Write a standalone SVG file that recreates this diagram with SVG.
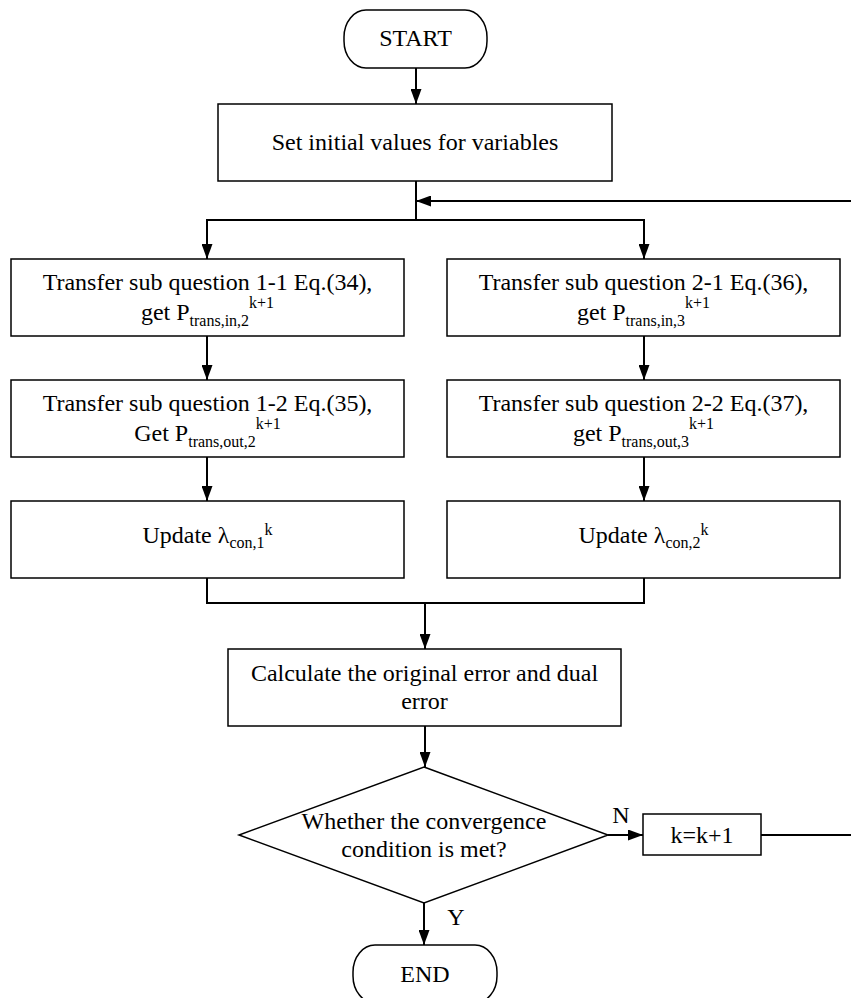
<svg xmlns="http://www.w3.org/2000/svg" width="851" height="998" viewBox="0 0 851 998">
<style>
text{font-family:"Liberation Serif","Times New Roman",serif;font-size:24px;fill:#000;text-anchor:middle}
.s{font-size:16px}
.box{fill:#fff;stroke:#000;stroke-width:1.5}
.con{fill:none;stroke:#000;stroke-width:2}
.arr{marker-end:url(#ah)}
</style>
<defs>
<marker id="ah" markerUnits="userSpaceOnUse" markerWidth="15" markerHeight="11" refX="15" refY="5.5" orient="auto">
<path d="M0,0 L15,5.5 L0,11 Z" fill="#000"/>
</marker>
</defs>
<rect width="851" height="998" fill="#fff"/>
<g id="connectors">
<path class="con arr" d="M416,68 V104"/>
<path class="con arr" d="M416,181 V220 H207 V259"/>
<path class="con arr" d="M416,220 H644 V259"/>
<path class="con arr" d="M207,336 V380"/>
<path class="con arr" d="M207,457 V501"/>
<path class="con arr" d="M644,336 V380"/>
<path class="con arr" d="M644,457 V501"/>
<path class="con" d="M207,578 V603 H644 V578"/>
<path class="con arr" d="M425,603 V649"/>
<path class="con arr" d="M425,726 V767"/>
<path class="con arr" d="M424,903 V945"/>
<path class="con arr" d="M608,835 H643"/>
<path class="con arr" d="M761,835 H856 V201 H416"/>
<text x="621" y="823">N</text>
<text x="456" y="925">Y</text>
</g>
<g id="start">
<rect class="box" x="344" y="10" width="143" height="58" rx="22" ry="27"/>
<text x="415.5" y="46">START</text>
</g>
<g id="init">
<rect class="box" x="218" y="104" width="394" height="77"/>
<text x="415" y="150">Set initial values for variables</text>
</g>
<g id="sub11">
<rect class="box" x="11" y="259" width="393" height="77"/>
<text x="207.5" y="290">Transfer sub question 1-1 Eq.(34),</text>
<text x="207.5" y="320">get P<tspan class="s" dy="6">trans,in,2</tspan><tspan class="s" dy="-18">k+1</tspan></text>
</g>
<g id="sub21">
<rect class="box" x="447" y="259" width="393" height="77"/>
<text x="643.5" y="290">Transfer sub question 2-1 Eq.(36),</text>
<text x="643.5" y="320">get P<tspan class="s" dy="6">trans,in,3</tspan><tspan class="s" dy="-18">k+1</tspan></text>
</g>
<g id="sub12">
<rect class="box" x="11" y="380" width="393" height="77"/>
<text x="207.5" y="411">Transfer sub question 1-2 Eq.(35),</text>
<text x="207.5" y="441">Get P<tspan class="s" dy="6">trans,out,2</tspan><tspan class="s" dy="-18">k+1</tspan></text>
</g>
<g id="sub22">
<rect class="box" x="447" y="380" width="393" height="77"/>
<text x="643.5" y="411">Transfer sub question 2-2 Eq.(37),</text>
<text x="643.5" y="441">get P<tspan class="s" dy="6">trans,out,3</tspan><tspan class="s" dy="-18">k+1</tspan></text>
</g>
<g id="upd1">
<rect class="box" x="11" y="501" width="393" height="77"/>
<text x="207.5" y="543">Update λ<tspan class="s" dy="5">con,1</tspan><tspan class="s" dy="-13">k</tspan></text>
</g>
<g id="upd2">
<rect class="box" x="447" y="501" width="393" height="77"/>
<text x="643.5" y="543">Update λ<tspan class="s" dy="5">con,2</tspan><tspan class="s" dy="-13">k</tspan></text>
</g>
<g id="calc">
<rect class="box" x="228" y="649" width="393" height="77"/>
<text x="424.5" y="681">Calculate the original error and dual</text>
<text x="424.5" y="709">error</text>
</g>
<g id="cond">
<polygon class="box" points="424,767 608,835 424,903 239,835"/>
<text x="424" y="829">Whether the convergence</text>
<text x="424" y="857">condition is met?</text>
</g>
<g id="inc">
<rect class="box" x="643" y="814" width="118" height="41"/>
<text x="702" y="843">k=k+1</text>
</g>
<g id="end">
<rect class="box" x="353" y="945" width="144" height="58" rx="22" ry="27"/>
<text x="425" y="982">END</text>
</g>
</svg>
